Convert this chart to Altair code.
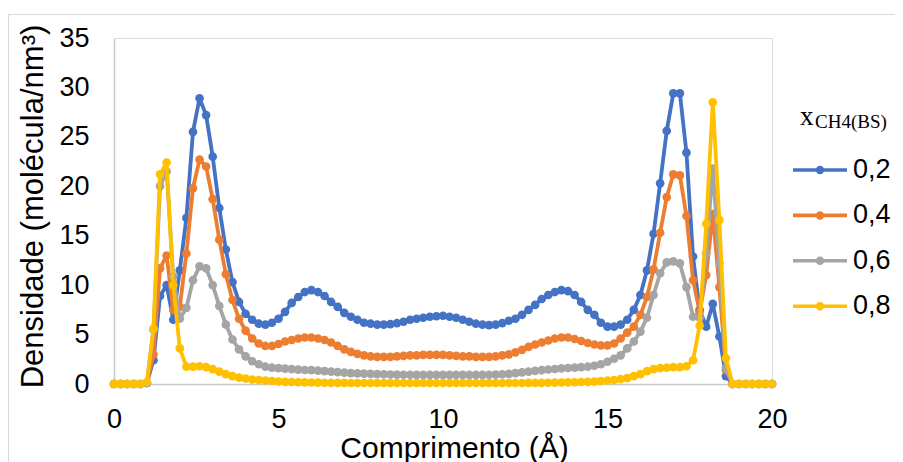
import altair as alt
import pandas as pd

# x grid (Å)
x_values = [round(i * 0.2, 1) for i in range(101)]

series_names = ["0,2", "0,4", "0,6", "0,8"]
series_colors = ["#4472C4", "#ED7D31", "#A5A5A5", "#FFC000"]

x_ticks = [0, 5, 10, 15, 20]
y_ticks = [0, 5, 10, 15, 20, 25, 30, 35]

dens_02 = [
    0, 0, 0, 0, 0, 0.1, 2.4, 8.9, 10.0, 6.5,
    11.5, 16.8, 25.5, 28.9, 27.2, 23.0, 17.8, 13.6, 10.3, 8.3,
    7.1, 6.5, 6.1, 6.0, 6.2, 6.6, 7.3, 8.2, 8.8, 9.3,
    9.5, 9.3, 8.9, 8.3, 7.8, 7.2, 6.8, 6.5, 6.2, 6.1,
    6.0, 6.0, 6.05, 6.15, 6.3, 6.5, 6.6, 6.7, 6.8, 6.85,
    6.9, 6.8, 6.7, 6.5, 6.3, 6.1, 6.0, 5.95, 6.0, 6.15,
    6.4, 6.6, 7.0, 7.5, 8.0, 8.6, 9.0, 9.3, 9.5, 9.4,
    9.0, 8.3, 7.5, 7.0, 6.2, 5.8, 5.8, 6.0, 6.5, 7.5,
    9.0, 11.5, 15.2, 20.3, 25.6, 29.4, 29.4, 23.4, 12.9, 7.5,
    5.8, 8.1, 4.8, 0.8, 0, 0, 0, 0, 0, 0,
    0,
]

dens_04 = [
    0, 0, 0, 0, 0, 0.1, 3.0, 11.7, 13.0, 7.5,
    7.8, 13.2, 19.8, 22.7, 22.0, 18.7, 14.6, 11.1, 8.5, 6.6,
    5.4, 4.6, 4.1, 3.85, 3.85, 4.05, 4.3, 4.45, 4.6, 4.7,
    4.7, 4.6, 4.45, 4.2, 3.85, 3.5, 3.25, 3.05, 2.9, 2.8,
    2.75, 2.75, 2.75, 2.8, 2.85, 2.9, 2.9, 2.95, 2.95, 2.95,
    2.95, 2.9, 2.85, 2.8, 2.8, 2.75, 2.75, 2.75, 2.8, 2.9,
    3.0, 3.2, 3.45, 3.75, 4.0, 4.2, 4.4, 4.6, 4.7, 4.7,
    4.55, 4.35, 4.15, 4.0, 3.9, 3.9, 4.1, 4.6, 5.2, 5.8,
    7.0, 8.8, 11.6, 15.3, 18.9, 21.2, 21.1, 17.0, 10.5, 7.3,
    11.0, 17.2, 9.8, 1.4, 0, 0, 0, 0, 0, 0,
    0,
]

dens_06 = [
    0, 0, 0, 0, 0, 0.1, 5.5, 20.0, 21.5, 10.9,
    6.6, 7.7, 10.5, 11.9, 11.7, 10.0, 7.9, 6.0, 4.5, 3.5,
    2.8, 2.3, 2.0, 1.75, 1.65, 1.6, 1.55, 1.5, 1.45, 1.42,
    1.4, 1.35, 1.3, 1.25, 1.2, 1.15, 1.1, 1.07, 1.05, 1.02,
    1.0, 0.98, 0.96, 0.95, 0.94, 0.93, 0.92, 0.92, 0.92, 0.92,
    0.92, 0.92, 0.92, 0.92, 0.92, 0.92, 0.92, 0.93, 0.95, 0.98,
    1.02, 1.1, 1.18, 1.25, 1.33, 1.4, 1.47, 1.52, 1.58, 1.62,
    1.66, 1.7, 1.75, 1.85, 2.0, 2.25, 2.55, 2.9, 3.6, 4.3,
    5.3, 6.7, 9.0, 11.2, 12.3, 12.4, 12.2, 9.8, 6.8, 6.7,
    13.2, 21.8, 12.2, 1.6, 0, 0, 0, 0, 0, 0,
    0,
]

dens_08 = [
    0, 0, 0, 0, 0, 0.2, 5.6, 21.2, 22.4, 10.0,
    3.6, 1.75, 1.75, 1.8, 1.7, 1.5, 1.25, 1.0, 0.8, 0.65,
    0.55, 0.45, 0.4, 0.35, 0.3, 0.25, 0.22, 0.2, 0.18, 0.16,
    0.15, 0.14, 0.13, 0.12, 0.12, 0.11, 0.1, 0.1, 0.1, 0.1,
    0.1, 0.1, 0.1, 0.1, 0.1, 0.1, 0.1, 0.1, 0.1, 0.1,
    0.1, 0.1, 0.1, 0.1, 0.1, 0.1, 0.1, 0.1, 0.1, 0.1,
    0.1, 0.1, 0.1, 0.11, 0.12, 0.12, 0.13, 0.14, 0.15, 0.16,
    0.18, 0.2, 0.22, 0.25, 0.3, 0.35, 0.4, 0.5, 0.6, 0.8,
    1.0, 1.3, 1.5, 1.6, 1.65, 1.7, 1.7, 1.8, 2.4, 5.9,
    16.2, 28.5, 16.6, 2.6, 0, 0, 0, 0, 0, 0,
    0,
]

all_series = [dens_02, dens_04, dens_06, dens_08]

rows = []
for name, vals in zip(series_names, all_series):
    for xv, yv in zip(x_values, vals):
        rows.append({"x": xv, "dens": yv, "serie": name})
df = pd.DataFrame(rows)

FONT = "Liberation Sans"
SERIF = "Liberation Serif"
AXIS_GREY = "#C9C9C9"

x_enc = alt.X(
    "x:Q",
    scale=alt.Scale(domain=[0, 20], nice=False, zero=False),
    axis=alt.Axis(
        values=x_ticks, format="d", ticks=False, grid=False,
        domainColor=AXIS_GREY, domainWidth=1.5,
        labelFont=FONT, labelFontSize=27, labelColor="black",
        labelPadding=22, labelFlush=False,
        title="Comprimento (Å)", titleFont=FONT, titleFontSize=30,
        titleFontWeight="normal", titleColor="black",
        titleX=340, titleY=73, titleAlign="center", titleBaseline="alphabetic",
    ),
)
y_enc = alt.Y(
    "dens:Q",
    scale=alt.Scale(domain=[0, 35], nice=False),
    axis=alt.Axis(
        values=y_ticks, format="d", ticks=False, grid=False,
        domainColor=AXIS_GREY, domainWidth=1.5,
        labelFont=FONT, labelFontSize=27, labelColor="black",
        labelPadding=25, labelFlush=False,
        title="Densidade (molécula/nm³)", titleFont=FONT, titleFontSize=31,
        titleFontWeight="normal", titleColor="black",
        titleX=-72, titleY=168, titleAngle=270,
        titleAlign="center", titleBaseline="alphabetic",
    ),
)

LEG_PATH = "M-3,0L1,0M-0.82,0A0.18,0.18,0,1,1,-1.18,0A0.18,0.18,0,1,1,-0.82,0Z"

color_scale = alt.Scale(domain=series_names, range=series_colors)
color_leg = alt.Color(
    "serie:N", scale=color_scale,
    legend=alt.Legend(
        title=None, orient="none", legendX=704, legendY=116.5,
        symbolType=LEG_PATH, symbolSize=729, symbolStrokeWidth=3.6,
        labelFont=FONT, labelFontSize=27, labelColor="black",
        labelOffset=4, rowPadding=16.4, padding=0,
    ),
)
color_noleg = alt.Color("serie:N", scale=color_scale, legend=None)

base = alt.Chart(df)
layers = []

frame = alt.Chart(alt.Data(values=[{}])).mark_rect(
    fill="transparent", stroke="#D9D9D9", strokeWidth=1
).encode(
    x=alt.value(-105.5), y=alt.value(-23.5), x2=alt.value(900), y2=alt.value(600)
)
layers.append(frame)

for name in series_names:
    sub = base.transform_filter(alt.datum.serie == name)
    layers.append(
        sub.mark_line(strokeWidth=3.8, strokeJoin="round", strokeCap="round").encode(
            x=x_enc, y=y_enc, color=color_leg
        )
    )
    layers.append(
        sub.mark_point(filled=True, size=75, opacity=1, shape="circle").encode(
            x=x_enc, y=y_enc, color=color_noleg
        )
    )

one = alt.Chart(alt.Data(values=[{}]))
title_x = one.mark_text(
    text="x", font=SERIF, fontSize=27, align="left", baseline="alphabetic", color="black"
).encode(x=alt.value(686), y=alt.value(87))
title_sub = one.mark_text(
    text="CH4(BS)", font=SERIF, fontSize=19, align="left", baseline="alphabetic", color="black"
).encode(x=alt.value(701), y=alt.value(90))
layers += [title_x, title_sub]

chart = alt.layer(*layers).properties(
    width=658, height=346,
    autosize=alt.AutoSizeParams(type="none"),
    padding={"left": 106, "top": 30, "right": 123, "bottom": 78},
    background="white",
).configure_view(stroke=None).configure(font=FONT)

chart.save("out.html", embed_options={"renderer": "svg", "actions": False})
